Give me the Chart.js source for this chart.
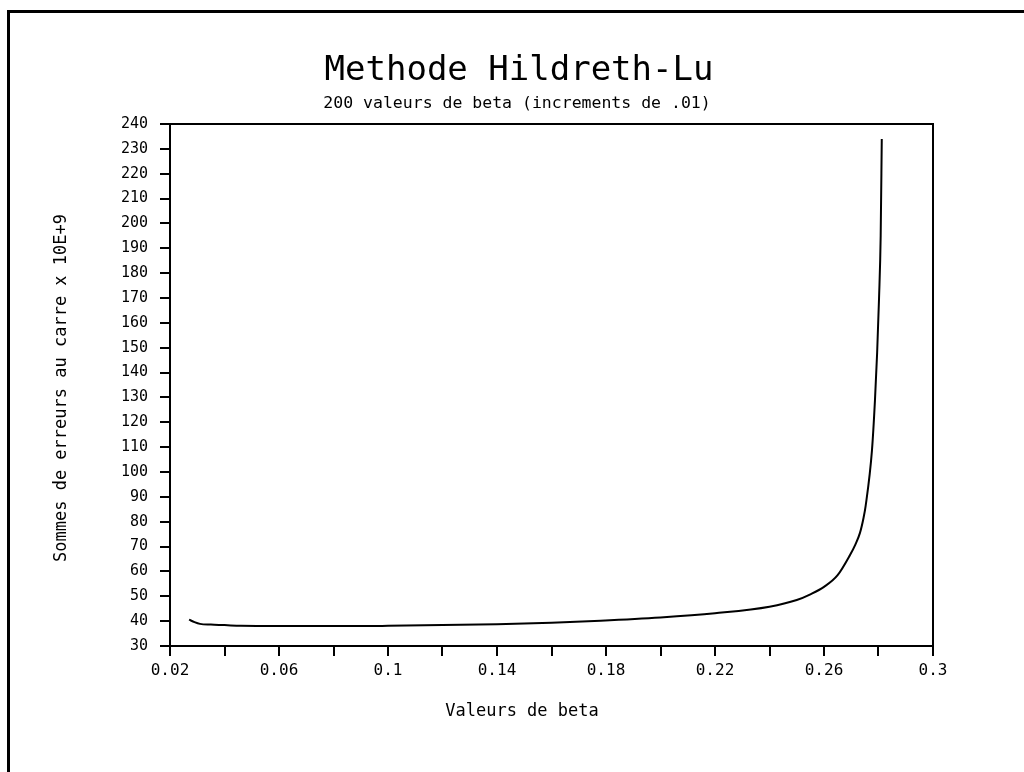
<!DOCTYPE html>
<html><head><meta charset="utf-8">
<script src="https://cdn.jsdelivr.net/npm/chart.js@4"></script>
<style>
html,body{margin:0;padding:0;background:#fff;}
#wrap{position:absolute;left:0;top:0;width:1024px;height:772px;overflow:hidden;}
#frame{position:absolute;left:7px;top:10px;width:1030px;height:780px;border-left:3px solid #000;border-top:3px solid #000;}
canvas{position:absolute;left:0;top:0;}
</style></head><body>
<div id="wrap"><div id="frame"></div><canvas id="c" width="1024" height="772"></canvas></div>
<script>
const betaValues = [0.027,0.029,0.031,0.035,0.04,0.046,0.06,0.07,0.08,0.09,0.10,0.12,0.14,0.16,0.178,0.20,0.22,0.24,0.25,0.255,0.26,0.265,0.2695,0.2715,0.2732,0.2745,0.2753,0.2776,0.2787,0.2795,0.2802,0.2808,0.2812];
const sumSquares = [40.6,39.6,38.9,38.6,38.4,38.1,38.0,38.0,38.0,38.0,38.1,38.4,38.8,39.4,40.2,41.5,43.2,45.8,48.5,50.8,53.8,58.5,66.5,70.8,75.5,81.5,86.5,108.7,128.8,148.0,170.0,195.0,234.0];
const yTicks = [30,40,50,60,70,80,90,100,110,120,130,140,150,160,170,180,190,200,210,220,230,240];
const xTickLabels = ['0.02','0.06','0.1','0.14','0.18','0.22','0.26','0.3'];
const titleText = 'Methode Hildreth-Lu';
const subtitleText = '200 valeurs de beta (increments de .01)';
const xTitle = 'Valeurs de beta';
const yTitle = 'Sommes de erreurs au carre x 10E+9';

const pts = betaValues.map((b,i)=>({x:b,y:sumSquares[i]}));
const font = "'DejaVu Sans Mono', monospace";
new Chart(document.getElementById('c'), {
  type:'line',
  data:{datasets:[{data:pts,borderColor:'#000',borderWidth:2,pointRadius:0,cubicInterpolationMode:'monotone',fill:false}]},
  options:{
    responsive:false,animation:false,
    layout:{padding:{left:40,right:91,top:124,bottom:46}},
    plugins:{legend:{display:false},tooltip:{enabled:false},title:{display:false},subtitle:{display:false}},
    scales:{
      x:{type:'linear',min:0.02,max:0.3,
        afterFit:(ax)=>{ax.height=80;},
        border:{color:'#000',width:2},
        grid:{display:true,drawOnChartArea:false,drawTicks:true,tickLength:10,color:'#000',lineWidth:2},
        ticks:{stepSize:0.02,color:'#000',font:{family:font,size:16},padding:5,maxRotation:0,autoSkip:false,
          callback:(v)=>{const s=Math.round(v*100)/100; const idx=Math.round((s-0.02)/0.04*1000)/1000; return Number.isInteger(idx)?xTickLabels[idx]:'';}},
        title:{display:false}},
      y:{type:'linear',min:30,max:240,
        afterFit:(ax)=>{ax.width=130;},
        border:{color:'#000',width:2},
        grid:{display:true,drawOnChartArea:false,drawTicks:true,tickLength:10,color:'#000',lineWidth:2},
        afterBuildTicks:(ax)=>{ax.ticks=yTicks.map(v=>({value:v}));},
        ticks:{color:'#000',font:{family:font,size:15},padding:12,autoSkip:false},
        title:{display:false}}
    }
  },
  plugins:[{id:'box',afterDraw(ch){
    const a=ch.chartArea,c=ch.ctx;
    c.save();c.strokeStyle='#000';c.lineWidth=2;c.beginPath();c.moveTo(a.left,a.top);c.lineTo(a.right,a.top);c.lineTo(a.right,a.bottom);c.stroke();
    c.fillStyle='#000';c.textAlign='center';c.textBaseline='middle';
    c.font='34px '+font; c.fillText(titleText,519,71);
    c.font='16.5px '+font; c.fillText(subtitleText,517,104);
    c.font='17px '+font; c.fillText(xTitle,522,712);
    c.translate(62,388); c.rotate(-Math.PI/2); c.font='17px '+font; c.fillText(yTitle,0,0);
    c.restore();}}]
});
</script></body></html>
